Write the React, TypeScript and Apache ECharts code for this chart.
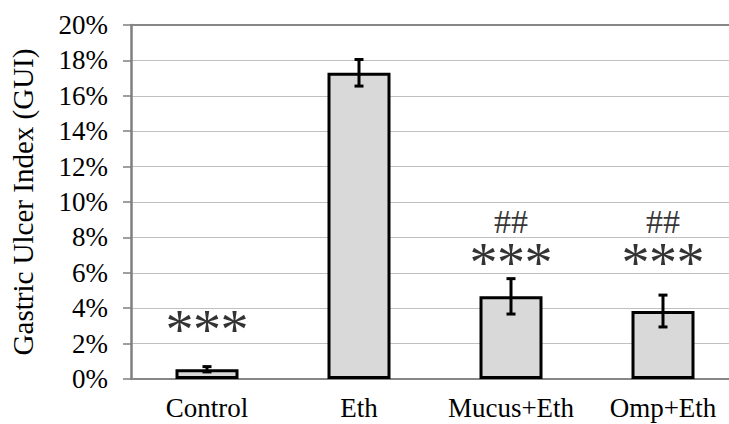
import React, { useEffect, useRef } from "react";
import * as echarts from "echarts";

const categories = ["Control", "Eth", "Mucus+Eth", "Omp+Eth"];
const values = [0.55, 17.3, 4.67, 3.84];
const errors = [0.15, 0.75, 1.0, 0.9];
const starLevels = [2.75, null, 6.56, 6.56];
const hashLevels = [null, null, 8.9, 8.9];
const yTicks = { min: 0, max: 20, interval: 2 };

const FONT = "Liberation Serif";

export default function App() {
  const ref = useRef<HTMLDivElement>(null);
  useEffect(() => {
    const chart = echarts.init(ref.current!, null, { renderer: "svg" });
    const stars = starLevels
      .map((v, i) => (v == null ? null : [i, v]))
      .filter((d) => d != null);
    const hashes = hashLevels
      .map((v, i) => (v == null ? null : [i, v]))
      .filter((d) => d != null);
    chart.setOption({
      animation: false,
      backgroundColor: "#ffffff",
      textStyle: { fontFamily: FONT },
      grid: { left: 131, top: 25, width: 608, height: 354, outerBoundsMode: "none", containLabel: false },
      xAxis: [
        {
          type: "category",
          data: categories,
          axisLine: { show: true, lineStyle: { color: "#878787", width: 2 } },
          axisTick: { show: false },
          axisLabel: { color: "#000", fontFamily: FONT, fontSize: 27, margin: 15, interval: 0 },
        },
        {
          type: "category",
          data: categories,
          position: "top",
          axisLine: { show: true, lineStyle: { color: "#878787", width: 2 } },
          axisTick: { show: false },
          axisLabel: { show: false },
        },
      ],
      yAxis: {
        type: "value",
        min: yTicks.min,
        max: yTicks.max,
        interval: yTicks.interval,
        name: "Gastric Ulcer Index (GUI)",
        nameLocation: "middle",
        nameGap: 94,
        nameTextStyle: { color: "#000", fontFamily: FONT, fontSize: 29 },
        axisLine: { show: true, lineStyle: { color: "#7f7f7f", width: 2.5 } },
        axisTick: { show: true, length: 8, lineStyle: { color: "#7f7f7f", width: 1.5 } },
        axisLabel: {
          color: "#000",
          fontFamily: FONT,
          fontSize: 27,
          margin: 23,
          formatter: "{value}%",
        },
        splitLine: { show: true, lineStyle: { color: "#c0c0c0", width: 1.2 } },
      },
      series: [
        {
          type: "bar",
          data: values,
          barWidth: 63,
          itemStyle: { color: "#d9d9d9", borderColor: "#000", borderWidth: 3 },
          z: 2,
        },
        {
          type: "custom",
          data: values.map((v, i) => [i, v - errors[i], v + errors[i]]),
          z: 3,
          renderItem: (params: any, api: any) => {
            const x = api.value(0);
            const lo = api.coord([x, api.value(1)]);
            const hi = api.coord([x, api.value(2)]);
            const hw = 4.5;
            const style = { stroke: "#000", lineWidth: 3 };
            return {
              type: "group",
              children: [
                { type: "line", shape: { x1: lo[0], y1: lo[1], x2: hi[0], y2: hi[1] }, style },
                { type: "line", shape: { x1: lo[0] - hw, y1: lo[1], x2: lo[0] + hw, y2: lo[1] }, style },
                { type: "line", shape: { x1: hi[0] - hw, y1: hi[1], x2: hi[0] + hw, y2: hi[1] }, style },
              ],
            };
          },
        },
        {
          type: "scatter",
          data: stars,
          symbolSize: 0,
          z: 4,
          label: {
            show: true,
            position: "inside",
            formatter: "{a|*}{a|*}{a|*}",
            rich: {
              a: { fontFamily: FONT, fontSize: 56, width: 27.5, height: 24, lineHeight: 24, align: "center", color: "#000" },
            },
          },
        },
        {
          type: "scatter",
          data: hashes,
          symbolSize: 0,
          z: 4,
          label: {
            show: true,
            position: "inside",
            formatter: "##",
            fontFamily: FONT,
            fontSize: 34,
            lineHeight: 26,
            color: "#000",
          },
        },
      ],
    });
    return () => chart.dispose();
  }, []);
  return (
    <div
      ref={ref}
      style={{ position: "fixed", left: 0, top: 0, width: 729, height: 424, overflow: "hidden" }}
    />
  );
}
